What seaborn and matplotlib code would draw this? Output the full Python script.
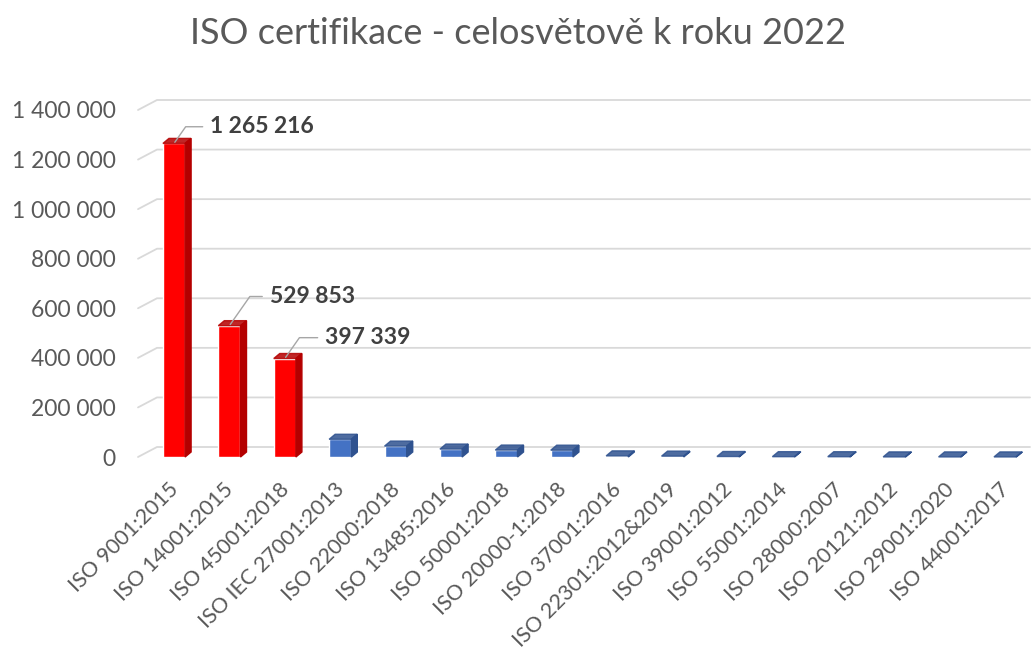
import matplotlib.pyplot as plt
import matplotlib.transforms as mtransforms
import seaborn as sns
import numpy as np
from matplotlib.patches import Polygon

# ISO certificates worldwide, 2022
normy = ['ISO 9001:2015', 'ISO 14001:2015', 'ISO 45001:2018', 'ISO IEC 27001:2013',
         'ISO 22000:2018', 'ISO 13485:2016', 'ISO 50001:2018', 'ISO 20000-1:2018',
         'ISO 37001:2016', 'ISO 22301:2012&2019', 'ISO 39001:2012', 'ISO 55001:2014',
         'ISO 28000:2007', 'ISO 20121:2012', 'ISO 29001:2020', 'ISO 44001:2017']
pocty = [1265216, 529853, 397339, 71549, 44000, 32000, 28000, 27500,
         4500, 3500, 2000, 1300, 1100, 400, 350, 300]
popisky = [0, 1, 2]          # bars with data label
barvy = ['#FF0000'] * 3 + ['#4472C4'] * 13
strany = ['#B40000'] * 3 + ['#2F528F'] * 13

sns.set_style('white')
plt.rcParams['font.family'] = ['Lato', 'DejaVu Sans']

fig = plt.figure(figsize=(10.36, 6.61), dpi=100)
ax = fig.add_axes([138/1036, 1 - 457/661, 892/1036, 347/661])

sns.barplot(x=normy, y=pocty, hue=normy, palette=barvy, legend=False,
            width=0.4, saturation=1, ax=ax, zorder=3)

xl, xr = -0.65, 15.45
ymax = 1400000
ax.set_xlim(xl, xr)
ax.set_ylim(0, ymax)

px_x = 892 / (xr - xl)      # pixels per category
px_y = 347 / ymax           # pixels per unit

# back wall gridlines (3D look)
wall_dx, wall_dy = 19 / px_x, 10 / px_y
ticks = np.arange(0, ymax + 1, 200000)
for v in ticks:
    ax.plot([xl, xl + wall_dx, xr], [v, v + wall_dy, v + wall_dy],
            color='#D9D9D9', lw=1.3, clip_on=False, zorder=1)

# 3D side and top faces of bars
bar_dx, bar_dy = 6 / px_x, 5 / px_y
for p, c in zip(ax.patches, strany):
    x0, w, h = p.get_x(), p.get_width(), p.get_height()
    x1 = x0 + w
    side = Polygon([(x1, 0), (x1 + bar_dx, bar_dy), (x1 + bar_dx, h + bar_dy), (x1, h)],
                   closed=True, color=c, zorder=3, clip_on=False)
    top = Polygon([(x0, h), (x0 + bar_dx, h + bar_dy), (x1 + bar_dx, h + bar_dy), (x1, h)],
                  closed=True, color=c, zorder=3, clip_on=False, alpha=0.85)
    ax.add_patch(side)
    ax.add_patch(top)

# data labels with leader lines
posuny = [(26, 12), (29, 21), (29, 15)]
for i, off in zip(popisky, posuny):
    ax.annotate(f'{pocty[i]:,}'.replace(',', ' '), xy=(i, pocty[i]), xytext=off,
                textcoords='offset points', ha='left', va='center',
                fontsize=16.5, fontweight='bold', color='#404040',
                arrowprops=dict(arrowstyle='-', color='#A6A6A6', lw=1,
                                shrinkA=3, shrinkB=1,
                                connectionstyle='angle,angleA=0,angleB=55,rad=0',
                                relpos=(0, 0.5)))

ax.set_yticks(ticks)
ax.set_yticklabels([f'{int(v):,}'.replace(',', ' ') for v in ticks],
                   fontsize=16.5, color='#595959')
ax.tick_params(axis='y', length=0, pad=16)
ax.tick_params(axis='x', length=0, pad=16)
ax.set_xticks(range(len(normy)))
ax.set_xticklabels(normy, rotation=45, ha='right', va='top',
                   rotation_mode='anchor', fontsize=15.5, color='#595959')
posun = mtransforms.ScaledTranslation(-6 / 100, 0, fig.dpi_scale_trans)
for t in ax.get_xticklabels():
    t.set_transform(t.get_transform() + posun)

sns.despine(ax=ax, left=True, bottom=True)
ax.grid(False)

fig.suptitle('ISO certifikace - celosvětově k roku 2022', fontsize=26,
             color='#595959', y=0.975)

fig.savefig('out.png', dpi=100)
